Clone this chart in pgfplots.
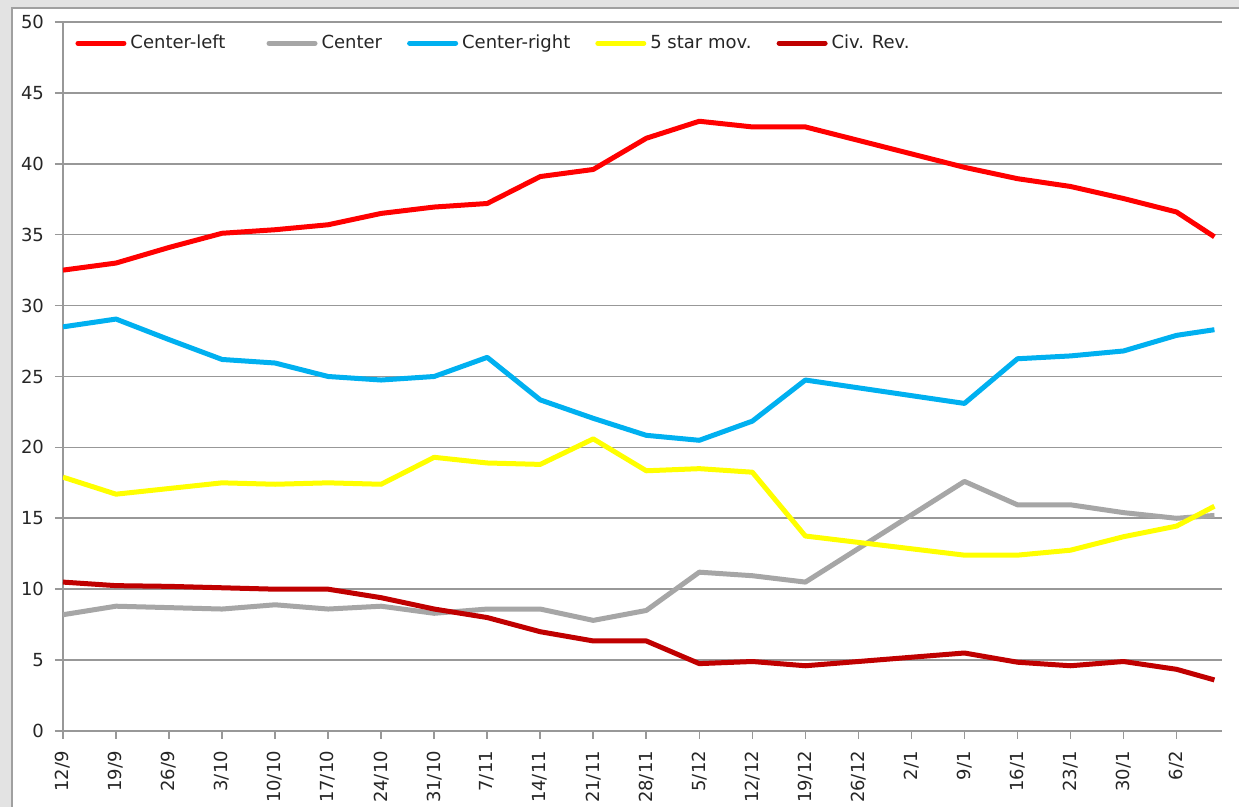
\documentclass[border=0pt]{standalone}
\usepackage{pgfplots}
\pgfplotsset{compat=1.18}
\usepackage{fontspec}
\setmainfont{DejaVu Sans}

\definecolor{cleft}{HTML}{FF0000}
\definecolor{ccenter}{HTML}{A6A6A6}
\definecolor{cright}{HTML}{00B0F0}
\definecolor{cfive}{HTML}{FFFF00}
\definecolor{ccivrev}{HTML}{C00000}
\definecolor{gridgray}{HTML}{989898}
\definecolor{outergray}{HTML}{E3E3E3}
\definecolor{framegray}{HTML}{A0A0A0}

\begin{document}
\begin{tikzpicture}
  % window background: grey band, white panel
  \fill[outergray] (-31.5pt,-38pt) rectangle (588pt,365.5pt);
  \fill[white] (-25.5pt,-38pt) rectangle (588pt,361.5pt);
  \draw[framegray, line width=0.8pt] (-25.5pt,-38pt) -- (-25.5pt,361.5pt) -- (588pt,361.5pt);
  \begin{axis}[
      scale only axis,
      width=579.5pt, height=354.5pt,
      xmin=0, xmax=153, ymin=0, ymax=50,
      axis lines*=left, axis line style={-, gridgray, line width=0.8pt},
      ytick={0,5,...,50},
      xtick={0,7,...,147},
      xticklabels={12/9,19/9,26/9,3/10,10/10,17/10,24/10,31/10,7/11,14/11,21/11,28/11,5/12,12/12,19/12,26/12,2/1,9/1,16/1,23/1,30/1,6/2},
      tick align=outside, major tick length=4pt,
      tick style={gridgray, line width=0.8pt},
      ymajorgrids, grid style={gridgray, line width=0.8pt},
      tick label style={font=\fontsize{9}{10}\selectfont, text=black!85},
      xticklabel style={rotate=90, anchor=east},
      xticklabel shift=2.5pt,
      yticklabel shift=2pt,
      /pgf/number format/assume math mode=true,
      legend columns=5,
      legend style={draw=none, fill=none, inner sep=0pt, at={(0.0104,0.970)}, anchor=west,
        font=\fontsize{9}{10}\selectfont, text=black!85,
        /tikz/every even column/.append style={column sep=10.5pt}},
      legend image code/.code={\draw[#1, line cap=round] (0pt,0pt) -- (23pt,0pt);},
      every axis plot/.append style={line width=2.5pt, line join=round, mark=none},
    ]
    \addplot[cleft] coordinates {(0,32.5) (7,33.0) (14,34.1) (21,35.1) (28,35.35) (35,35.7) (42,36.5) (49,36.95) (56,37.2) (63,39.1) (70,39.6) (77,41.8) (84,43.0) (91,42.6) (98,42.6) (119,39.75) (126,38.95) (133,38.4) (140,37.55) (147,36.6) (152,34.85)};
    \addlegendentry{Center-left\rule{8pt}{0pt}}
    \addplot[ccenter] coordinates {(0,8.2) (7,8.8) (14,8.7) (21,8.6) (28,8.9) (35,8.6) (42,8.8) (49,8.3) (56,8.6) (63,8.6) (70,7.8) (77,8.5) (84,11.2) (91,10.95) (98,10.5) (119,17.6) (126,15.95) (133,15.95) (140,15.4) (147,15.0) (152,15.2)};
    \addlegendentry{Center}
    \addplot[cright] coordinates {(0,28.5) (7,29.05) (14,27.6) (21,26.2) (28,25.95) (35,25.0) (42,24.75) (49,25.0) (56,26.35) (63,23.35) (70,22.05) (77,20.85) (84,20.5) (91,21.85) (98,24.75) (119,23.1) (126,26.25) (133,26.45) (140,26.8) (147,27.9) (152,28.3)};
    \addlegendentry{Center-right}
    \addplot[cfive] coordinates {(0,17.9) (7,16.7) (14,17.1) (21,17.5) (28,17.4) (35,17.5) (42,17.4) (49,19.3) (56,18.9) (63,18.8) (70,20.6) (77,18.35) (84,18.5) (91,18.25) (98,13.75) (119,12.4) (126,12.4) (133,12.75) (140,13.7) (147,14.45) (152,15.85)};
    \addlegendentry{5 star mov.}
    \addplot[ccivrev] coordinates {(0,10.5) (7,10.25) (14,10.2) (21,10.1) (28,10.0) (35,10.0) (42,9.4) (49,8.6) (56,8.0) (63,7.0) (70,6.35) (77,6.35) (84,4.75) (91,4.9) (98,4.6) (119,5.5) (126,4.85) (133,4.6) (140,4.9) (147,4.35) (152,3.6)};
    \addlegendentry{Civ. Rev.}
  \end{axis}
  \pgfresetboundingbox
  \useasboundingbox (-31.5pt,-38pt) rectangle (588pt,365.5pt);
\end{tikzpicture}
\end{document}
